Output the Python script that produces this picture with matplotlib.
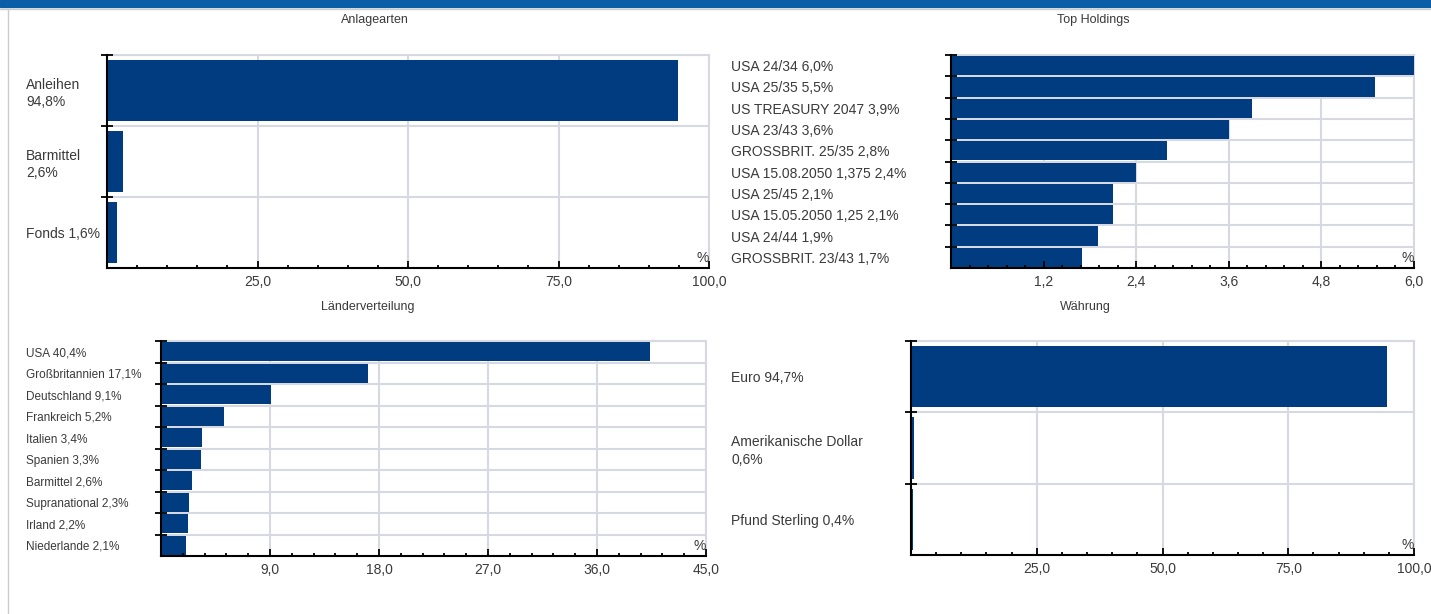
import numpy as np
import matplotlib.pyplot as plt
from matplotlib.ticker import MultipleLocator, FixedLocator
from matplotlib.transforms import blended_transform_factory

# ============================================================
# DATA
# ============================================================

anlage_labels = ["Anleihen\n94,8%", "Barmittel\n2,6%", "Fonds 1,6%"]
anlage_values = [94.8, 2.6, 1.6]

holdings_labels = ["USA 24/34 6,0%", "USA 25/35 5,5%", "US TREASURY 2047 3,9%",
                   "USA 23/43 3,6%", "GROSSBRIT. 25/35 2,8%", "USA 15.08.2050 1,375 2,4%",
                   "USA 25/45 2,1%", "USA 15.05.2050 1,25 2,1%", "USA 24/44 1,9%",
                   "GROSSBRIT. 23/43 1,7%"]
holdings_values = [6.0, 5.5, 3.9, 3.6, 2.8, 2.4, 2.1, 2.1, 1.9, 1.7]

laender_labels = ["USA 40,4%", "Großbritannien 17,1%", "Deutschland 9,1%", "Frankreich 5,2%",
                  "Italien 3,4%", "Spanien 3,3%", "Barmittel 2,6%", "Supranational 2,3%",
                  "Irland 2,2%", "Niederlande 2,1%"]
laender_values = [40.4, 17.1, 9.1, 5.2, 3.4, 3.3, 2.6, 2.3, 2.2, 2.1]

waehrung_labels = ["Euro 94,7%", "Amerikanische Dollar\n0,6%", "Pfund Sterling 0,4%"]
waehrung_values = [94.7, 0.6, 0.4]

# ============================================================
# STYLE
# ============================================================

plt.rcParams['font.family'] = ['Liberation Sans', 'DejaVu Sans']
BAR = '#023c80'
GRID = '#d6d9e2'
TXT = '#3a3a3a'
W, H = 1431, 614

fig = plt.figure(figsize=(W / 100, H / 100), dpi=100)
fig.patch.set_facecolor('white')

# header strip and frame line
fig.patches.append(plt.Rectangle((0, 1 - 7 / H), 1, 7 / H, transform=fig.transFigure,
                                 color='#0a5ea8', zorder=0))
fig.lines.append(plt.Line2D([0, 1], [1 - 8.5 / H] * 2, transform=fig.transFigure,
                            color='#cccccc', lw=1))
fig.lines.append(plt.Line2D([7.5 / W] * 2, [0, 1 - 8.5 / H], transform=fig.transFigure,
                            color='#cccccc', lw=1))


def panel(px, title, title_xy, labels, values, xmax, major, label_x, label_fs, bar_h):
    x0, y_top, x1, y_bot = px
    ax = fig.add_axes([x0 / W, 1 - y_bot / H, (x1 - x0) / W, (y_bot - y_top) / H])
    n = len(values)
    y = np.arange(n)
    xt = np.arange(major, xmax + major / 2, major)
    yt = np.arange(n) - 0.5

    # grid drawn by hand so the axis (ticks) can sit above the bars
    for v in xt:
        ax.axvline(v, color=GRID, lw=1.5, zorder=0)
    for v in yt:
        ax.axhline(v, color=GRID, lw=1.5, zorder=0)
    ax.barh(y, values, height=bar_h, color=BAR, zorder=1)
    ax.set_xlim(0, xmax)
    ax.set_ylim(n - 0.5, -0.5)

    # ticks
    ax.xaxis.set_major_locator(FixedLocator(xt))
    ax.xaxis.set_minor_locator(MultipleLocator(major / 5))
    ax.set_xticklabels([f"{v:.1f}".replace('.', ',') for v in xt])
    ax.yaxis.set_major_locator(FixedLocator(yt))
    ax.set_yticklabels([])
    ax.tick_params(axis='x', which='major', direction='in', length=5, width=1.3,
                   labelsize=10, labelcolor=TXT, pad=5)
    ax.tick_params(axis='x', which='minor', direction='in', length=2.5, width=1.3)
    ax.tick_params(axis='y', which='major', direction='inout', length=9, width=1.3)

    for s in ['left', 'bottom']:
        ax.spines[s].set_linewidth(1.5)
    for s in ['top', 'right']:
        ax.spines[s].set_color(GRID)
        ax.spines[s].set_linewidth(1.5)
        ax.spines[s].set_zorder(0)

    ax.text(1.0, 0.015, '%', transform=ax.transAxes, ha='right', va='bottom',
            fontsize=10, color=TXT)

    # category labels
    tr = blended_transform_factory(fig.transFigure, ax.transData)
    for yi, lab in zip(y, labels):
        ax.text(label_x / W, yi, lab, transform=tr, ha='left', va='center_baseline',
                fontsize=label_fs, color=TXT, linespacing=1.3)

    fig.text(title_xy[0] / W, 1 - title_xy[1] / H, title, ha='center', va='center',
             fontsize=9, color=TXT)
    return ax


# ============================================================
# PANELS
# ============================================================

panel((107, 55, 709, 268), "Anlagearten", (375, 20), anlage_labels, anlage_values,
      100, 25, 26, 10, 0.86)
panel((951, 55, 1414, 268), "Top Holdings", (1093, 20), holdings_labels, holdings_values,
      6.0, 1.2, 731, 10, 0.9)
panel((161, 341, 706, 556), "Länderverteilung", (368, 307), laender_labels, laender_values,
      45, 9, 26, 8.5, 0.9)
panel((911, 341, 1414, 555), "Währung", (1085, 307), waehrung_labels, waehrung_values,
      100, 25, 731, 10, 0.86)

fig.savefig('out.png', dpi=100)
